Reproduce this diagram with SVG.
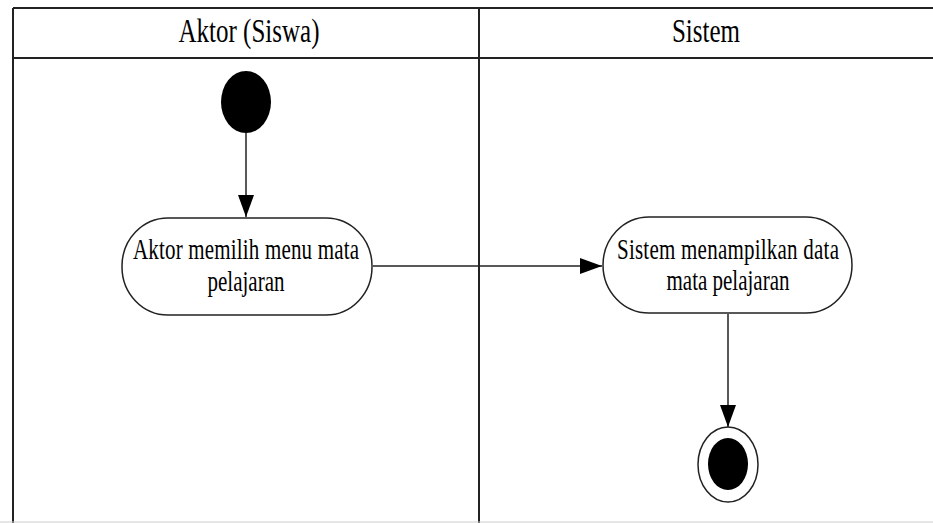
<svg xmlns="http://www.w3.org/2000/svg" width="933" height="523" viewBox="0 0 933 523">
  <style>
    .lane { stroke: #222; stroke-width: 2; fill: none; }
    .act { fill: #fff; stroke: #222; stroke-width: 1.5; }
    .lbl { font-family: "Liberation Serif", "Times New Roman", "DejaVu Serif", serif; font-size: 21px; fill: #000; text-anchor: middle; }
    .hdr { font-family: "Liberation Serif", "Times New Roman", "DejaVu Serif", serif; font-size: 25px; fill: #000; text-anchor: middle; }
    .edge { stroke: #222; stroke-width: 1.5; fill: none; marker-end: url(#arrow); }
  </style>
  <defs>
    <marker id="arrow" viewBox="0 0 22 16" refX="22" refY="8" markerWidth="22" markerHeight="16" markerUnits="userSpaceOnUse" orient="auto">
      <path d="M0,0 L22,8 L0,16 Z" fill="#000"/>
    </marker>
  </defs>
  <rect x="0" y="0" width="933" height="523" fill="#fff"/>

  <g id="swimlanes">
    <line class="lane" x1="13" y1="8" x2="933" y2="8"/>
    <line class="lane" x1="13" y1="58" x2="933" y2="58" stroke-width="3"/>
    <line class="lane" x1="13" y1="8" x2="13" y2="523"/>
    <line class="lane" x1="479" y1="8" x2="479" y2="523"/>
    <line x1="0" y1="522" x2="933" y2="522" stroke="#ccc" stroke-width="1"/>
    <text class="hdr" transform="translate(249,42) scale(1,1.35)">Aktor (Siswa)</text>
    <text class="hdr" transform="translate(706,42) scale(1,1.35)">Sistem</text>
  </g>

  <g id="connectors">
    <line class="edge" x1="246" y1="133" x2="246" y2="217"/>
    <polyline class="edge" points="373,266 400,266 602,266"/>
    <line class="edge" x1="728" y1="314" x2="728" y2="427"/>
  </g>

  <g id="start">
    <ellipse cx="246" cy="102" rx="25" ry="31" fill="#000"/>
  </g>

  <g id="act1">
    <rect class="act" x="122" y="218" width="250" height="97" rx="46" ry="48"/>
    <text class="lbl" transform="translate(246,259) scale(1,1.4)" textLength="226" lengthAdjust="spacing">Aktor memilih menu mata</text>
    <text class="lbl" transform="translate(246,291) scale(1,1.4)">pelajaran</text>
  </g>

  <g id="act2">
    <rect class="act" x="603" y="217" width="249" height="96" rx="46" ry="48"/>
    <text class="lbl" transform="translate(728,259) scale(1,1.4)" textLength="222" lengthAdjust="spacing">Sistem menampilkan data</text>
    <text class="lbl" transform="translate(728,290) scale(1,1.4)">mata pelajaran</text>
  </g>

  <g id="end">
    <ellipse cx="728" cy="464.5" rx="30" ry="37.5" fill="#fff" stroke="#222" stroke-width="1.5"/>
    <ellipse cx="728" cy="464" rx="20" ry="26" fill="#000"/>
  </g>
</svg>
